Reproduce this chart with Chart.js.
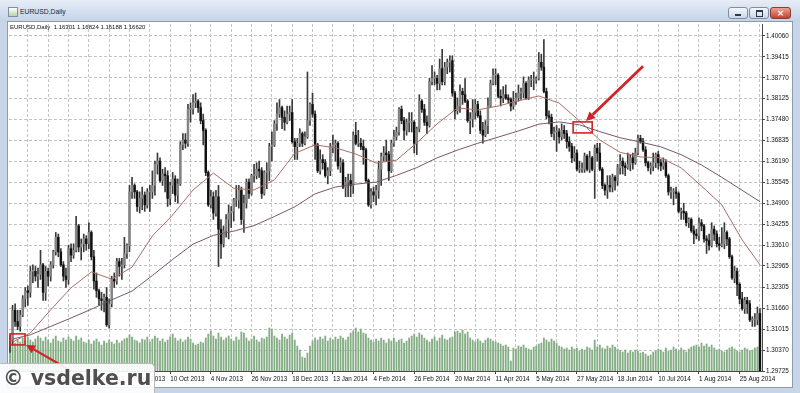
<!DOCTYPE html>
<html>
<head>
<meta charset="utf-8">
<title>EURUSD,Daily</title>
<script src="https://cdn.jsdelivr.net/npm/chart.js@4.4.1/dist/chart.umd.min.js"></script>
<style>
body{margin:0;width:800px;height:393px;overflow:hidden;background:#c6d5e8;font-family:'Liberation Sans',Arial,sans-serif}
#win{position:relative;width:800px;height:393px}
#bar{position:absolute;left:0;top:0;width:800px;height:21px;background:linear-gradient(#e6edf6,#c4d4e8)}
#bar .ico{position:absolute;left:8px;top:7px;width:8px;height:8px;border:1px solid #7d8fa5;background:linear-gradient(#ffffff,#b9d3a8)}
#bar .ttl{position:absolute;left:20px;top:8px;font-size:6.8px;color:#1b2636}
.btn{position:absolute;top:7px;height:10px;border:1px solid #7c8da4;border-radius:3px;background:linear-gradient(#f4f7fb,#cbd7e7)}
.min{left:728px;width:18px}.max{left:749px;width:18px}
.min:after{content:'';position:absolute;left:6px;top:6px;width:6px;height:2px;background:#2d3a4e}
.max:after{content:'';position:absolute;left:6px;top:2px;width:5px;height:4px;border:1px solid #2d3a4e;border-top-width:2px}
.cls{left:770px;width:19px;border-color:#8b3b31;background:linear-gradient(#e9a293,#c3432e);color:#fff;font:bold 9px 'DejaVu Sans',sans-serif;text-align:center;line-height:10px}
#pane{position:absolute;left:7px;top:21px;width:784px;height:365px;background:#fff;border:1px solid #8e9aaa}
#c{position:absolute;left:0;top:0}
#head{position:absolute;left:10px;top:24px;font-size:6px;color:#111;white-space:pre}
#wm{position:absolute;left:0;top:363px;width:151px;height:29px;background:rgba(255,255,255,0.9);border:1px solid #b9b9b9;border-left:none;border-bottom:none;border-radius:0 5px 0 0;font:bold 20.5px 'DejaVu Sans',sans-serif;color:#4f4f4f;line-height:29px;padding-left:3px;white-space:nowrap;text-shadow:0 0 1px #fff}
</style>
</head>
<body>
<div id="win">
  <div id="bar"><span class="ico"></span><span class="ttl">EURUSD,Daily</span>
    <div class="btn min"></div><div class="btn max"></div><div class="btn cls">×</div></div>
  <div id="pane"></div>
  <canvas id="c" width="800" height="393"></canvas>
  <div id="head">EURUSD,Daily  1.16301 1.16824 1.16188 1.16620</div>
  <div id="wm">© vsdelke.ru</div>
</div>
<script>
// daily bars, 15 Jul 2013 .. 4 Sep 2014
const opens=[
1.3065,1.3068,1.3160,1.3125,1.3110,1.3145,1.3195,1.3220,1.3215,1.3280,
1.3280,1.3265,1.3270,1.3300,1.3215,1.3280,1.3265,1.3300,1.3340,1.3385,
1.3340,1.3300,1.3265,1.3255,1.3350,1.3330,1.3345,1.3420,1.3355,1.3365,
1.3380,1.3365,1.3400,1.3325,1.3250,1.3220,1.3195,1.3190,1.3200,1.3115,
1.3180,1.3255,1.3250,1.3310,1.3295,1.3300,1.3335,1.3360,1.3525,1.3545,
1.3525,1.3480,1.3505,1.3515,1.3485,1.3525,1.3525,1.3545,1.3610,1.3620,
1.3560,1.3580,1.3575,1.3505,1.3545,1.3565,1.3515,1.3550,1.3670,1.3685,
1.3675,1.3780,1.3780,1.3800,1.3805,1.3785,1.3745,1.3715,1.3585,1.3485,
1.3510,1.3460,1.3510,1.3410,1.3365,1.3405,1.3440,1.3460,1.3465,1.3500,
1.3500,1.3530,1.3440,1.3490,1.3555,1.3520,1.3575,1.3575,1.3595,1.3590,
1.3520,1.3585,1.3590,1.3665,1.3670,1.3735,1.3765,1.3785,1.3755,1.3740,
1.3765,1.3770,1.3680,1.3665,1.3675,1.3705,1.3675,1.3695,1.3745,1.3795,
1.3765,1.3670,1.3590,1.3625,1.3615,1.3575,1.3590,1.3665,1.3670,1.3675,
1.3605,1.3615,1.3540,1.3555,1.3560,1.3545,1.3700,1.3675,1.3675,1.3665,
1.3655,1.3560,1.3485,1.3525,1.3515,1.3530,1.3595,1.3635,1.3645,1.3640,
1.3590,1.3675,1.3695,1.3710,1.3780,1.3745,1.3715,1.3740,1.3740,1.3740,
1.3675,1.3720,1.3805,1.3780,1.3740,1.3730,1.3865,1.3875,1.3875,1.3860,
1.3905,1.3865,1.3910,1.3925,1.3930,1.3830,1.3775,1.3790,1.3835,1.3825,
1.3805,1.3745,1.3750,1.3770,1.3795,1.3760,1.3715,1.3700,1.3730,1.3790,
1.3860,1.3885,1.3885,1.3820,1.3815,1.3825,1.3815,1.3810,1.3790,1.3805,
1.3815,1.3830,1.3830,1.3860,1.3815,1.3870,1.3870,1.3870,1.3875,1.3925,
1.3910,1.3835,1.3760,1.3755,1.3705,1.3710,1.3710,1.3695,1.3715,1.3705,
1.3680,1.3665,1.3630,1.3645,1.3595,1.3595,1.3595,1.3635,1.3595,1.3630,
1.3595,1.3660,1.3645,1.3595,1.3545,1.3530,1.3545,1.3540,1.3570,1.3560,
1.3600,1.3620,1.3605,1.3600,1.3610,1.3630,1.3615,1.3645,1.3690,1.3680,
1.3655,1.3615,1.3600,1.3605,1.3615,1.3640,1.3615,1.3605,1.3615,1.3575,
1.3525,1.3525,1.3525,1.3520,1.3465,1.3465,1.3460,1.3430,1.3440,1.3405,
1.3395,1.3390,1.3430,1.3420,1.3380,1.3375,1.3360,1.3410,1.3395,1.3365,
1.3360,1.3365,1.3400,1.3380,1.3325,1.3260,1.3280,1.3240,1.3195,1.3165,
1.3190,1.3180,1.3130,1.3130,1.3130,1.3150];
const highs=[
1.3085,1.3175,1.3180,1.3160,1.3160,1.3205,1.3230,1.3235,1.3295,1.3300,
1.3295,1.3290,1.3345,1.3305,1.3295,1.3290,1.3310,1.3345,1.3400,1.3395,
1.3350,1.3310,1.3290,1.3360,1.3365,1.3365,1.3450,1.3425,1.3380,1.3395,
1.3390,1.3430,1.3405,1.3345,1.3275,1.3225,1.3215,1.3210,1.3230,1.3195,
1.3265,1.3275,1.3320,1.3320,1.3320,1.3385,1.3365,1.3545,1.3570,1.3550,
1.3530,1.3525,1.3540,1.3525,1.3535,1.3545,1.3590,1.3620,1.3645,1.3630,
1.3595,1.3600,1.3590,1.3555,1.3585,1.3575,1.3565,1.3680,1.3705,1.3705,
1.3795,1.3800,1.3825,1.3830,1.3810,1.3800,1.3765,1.3720,1.3590,1.3530,
1.3525,1.3530,1.3545,1.3440,1.3420,1.3455,1.3485,1.3480,1.3505,1.3545,
1.3545,1.3540,1.3515,1.3565,1.3565,1.3580,1.3610,1.3615,1.3620,1.3600,
1.3590,1.3615,1.3675,1.3710,1.3745,1.3800,1.3810,1.3790,1.3775,1.3790,
1.3790,1.3810,1.3690,1.3690,1.3720,1.3710,1.3710,1.3895,1.3800,1.3830,
1.3775,1.3675,1.3655,1.3640,1.3625,1.3600,1.3675,1.3700,1.3685,1.3680,
1.3630,1.3625,1.3570,1.3580,1.3580,1.3710,1.3740,1.3715,1.3690,1.3685,
1.3660,1.3565,1.3535,1.3540,1.3545,1.3620,1.3645,1.3665,1.3685,1.3650,
1.3685,1.3715,1.3725,1.3785,1.3790,1.3755,1.3750,1.3770,1.3770,1.3745,
1.3725,1.3825,1.3810,1.3795,1.3760,1.3875,1.3915,1.3895,1.3885,1.3935,
1.3965,1.3925,1.3935,1.3945,1.3945,1.3835,1.3815,1.3855,1.3845,1.3875,
1.3810,1.3770,1.3810,1.3810,1.3805,1.3775,1.3740,1.3745,1.3815,1.3870,
1.3905,1.3905,1.3890,1.3840,1.3850,1.3855,1.3825,1.3815,1.3835,1.3830,
1.3855,1.3845,1.3880,1.3865,1.3880,1.3885,1.3895,1.3880,1.3955,1.3950,
1.3995,1.3845,1.3775,1.3765,1.3725,1.3730,1.3720,1.3735,1.3730,1.3715,
1.3695,1.3675,1.3665,1.3655,1.3620,1.3615,1.3645,1.3640,1.3650,1.3635,
1.3670,1.3675,1.3675,1.3600,1.3550,1.3575,1.3575,1.3580,1.3575,1.3610,
1.3640,1.3630,1.3615,1.3645,1.3640,1.3645,1.3660,1.3700,1.3700,1.3690,
1.3665,1.3620,1.3615,1.3645,1.3645,1.3650,1.3625,1.3630,1.3625,1.3580,
1.3540,1.3535,1.3540,1.3525,1.3475,1.3490,1.3465,1.3445,1.3445,1.3420,
1.3410,1.3445,1.3440,1.3425,1.3390,1.3395,1.3430,1.3420,1.3405,1.3385,
1.3415,1.3430,1.3405,1.3385,1.3330,1.3295,1.3290,1.3245,1.3215,1.3200,
1.3200,1.3190,1.3140,1.3150,1.3170,1.3165];
const lows=[
1.3030,1.3055,1.3110,1.3100,1.3095,1.3140,1.3170,1.3175,1.3200,1.3245,
1.3250,1.3230,1.3255,1.3190,1.3190,1.3235,1.3250,1.3290,1.3330,1.3325,
1.3295,1.3250,1.3230,1.3240,1.3310,1.3320,1.3340,1.3340,1.3315,1.3340,
1.3345,1.3350,1.3315,1.3225,1.3200,1.3175,1.3160,1.3155,1.3110,1.3105,
1.3170,1.3230,1.3240,1.3265,1.3255,1.3290,1.3320,1.3340,1.3505,1.3505,
1.3465,1.3460,1.3470,1.3465,1.3475,1.3465,1.3505,1.3515,1.3580,1.3555,
1.3545,1.3525,1.3480,1.3485,1.3520,1.3495,1.3490,1.3545,1.3655,1.3660,
1.3665,1.3740,1.3765,1.3785,1.3770,1.3735,1.3670,1.3575,1.3480,1.3475,
1.3440,1.3450,1.3295,1.3320,1.3355,1.3385,1.3380,1.3415,1.3435,1.3480,
1.3475,1.3425,1.3400,1.3475,1.3505,1.3515,1.3555,1.3565,1.3570,1.3505,
1.3515,1.3535,1.3560,1.3620,1.3665,1.3715,1.3755,1.3720,1.3715,1.3735,
1.3745,1.3675,1.3625,1.3625,1.3665,1.3665,1.3670,1.3690,1.3730,1.3755,
1.3625,1.3585,1.3580,1.3595,1.3570,1.3550,1.3575,1.3645,1.3620,1.3595,
1.3585,1.3535,1.3510,1.3510,1.3510,1.3520,1.3670,1.3665,1.3655,1.3610,
1.3555,1.3480,1.3475,1.3495,1.3485,1.3505,1.3545,1.3620,1.3620,1.3560,
1.3585,1.3665,1.3685,1.3700,1.3735,1.3685,1.3700,1.3710,1.3710,1.3645,
1.3640,1.3710,1.3770,1.3730,1.3705,1.3725,1.3855,1.3855,1.3840,1.3840,
1.3855,1.3855,1.3890,1.3895,1.3820,1.3750,1.3765,1.3770,1.3795,1.3800,
1.3740,1.3705,1.3725,1.3750,1.3755,1.3705,1.3675,1.3695,1.3705,1.3785,
1.3855,1.3855,1.3815,1.3790,1.3800,1.3810,1.3800,1.3775,1.3780,1.3795,
1.3805,1.3810,1.3815,1.3810,1.3810,1.3850,1.3840,1.3860,1.3870,1.3900,
1.3830,1.3750,1.3735,1.3695,1.3685,1.3650,1.3675,1.3685,1.3690,1.3660,
1.3650,1.3615,1.3620,1.3590,1.3585,1.3585,1.3585,1.3590,1.3585,1.3590,
1.3505,1.3620,1.3590,1.3535,1.3515,1.3505,1.3525,1.3525,1.3530,1.3545,
1.3580,1.3580,1.3575,1.3595,1.3590,1.3595,1.3610,1.3640,1.3675,1.3650,
1.3605,1.3590,1.3580,1.3590,1.3600,1.3595,1.3590,1.3595,1.3570,1.3515,
1.3505,1.3485,1.3505,1.3460,1.3440,1.3440,1.3420,1.3415,1.3400,1.3365,
1.3380,1.3375,1.3405,1.3370,1.3335,1.3345,1.3355,1.3375,1.3355,1.3345,
1.3355,1.3350,1.3360,1.3320,1.3255,1.3245,1.3205,1.3180,1.3160,1.3150,
1.3150,1.3125,1.3110,1.3110,1.3115,1.2920];
const closes=[
1.3068,1.3160,1.3125,1.3110,1.3145,1.3195,1.3220,1.3215,1.3280,1.3280,
1.3265,1.3270,1.3300,1.3215,1.3280,1.3265,1.3300,1.3340,1.3385,1.3340,
1.3300,1.3265,1.3255,1.3350,1.3330,1.3345,1.3420,1.3355,1.3365,1.3380,
1.3365,1.3400,1.3325,1.3250,1.3220,1.3195,1.3190,1.3200,1.3115,1.3180,
1.3255,1.3250,1.3310,1.3295,1.3300,1.3335,1.3360,1.3525,1.3545,1.3525,
1.3480,1.3505,1.3515,1.3485,1.3525,1.3525,1.3545,1.3610,1.3620,1.3560,
1.3580,1.3575,1.3505,1.3545,1.3565,1.3515,1.3550,1.3670,1.3685,1.3675,
1.3780,1.3780,1.3800,1.3805,1.3785,1.3745,1.3715,1.3585,1.3485,1.3510,
1.3460,1.3510,1.3410,1.3365,1.3405,1.3440,1.3460,1.3465,1.3500,1.3500,
1.3530,1.3440,1.3490,1.3555,1.3520,1.3575,1.3575,1.3595,1.3590,1.3520,
1.3585,1.3590,1.3665,1.3670,1.3735,1.3765,1.3785,1.3755,1.3740,1.3765,
1.3770,1.3680,1.3665,1.3675,1.3705,1.3675,1.3695,1.3745,1.3795,1.3765,
1.3670,1.3590,1.3625,1.3615,1.3575,1.3590,1.3665,1.3670,1.3675,1.3605,
1.3615,1.3540,1.3555,1.3560,1.3545,1.3700,1.3675,1.3675,1.3665,1.3655,
1.3560,1.3485,1.3525,1.3515,1.3530,1.3595,1.3635,1.3645,1.3640,1.3590,
1.3675,1.3695,1.3710,1.3780,1.3745,1.3715,1.3740,1.3740,1.3740,1.3675,
1.3720,1.3805,1.3780,1.3740,1.3730,1.3865,1.3875,1.3875,1.3860,1.3905,
1.3865,1.3910,1.3925,1.3930,1.3830,1.3775,1.3790,1.3835,1.3825,1.3805,
1.3745,1.3750,1.3770,1.3795,1.3760,1.3715,1.3700,1.3730,1.3790,1.3860,
1.3885,1.3885,1.3820,1.3815,1.3825,1.3815,1.3810,1.3790,1.3805,1.3815,
1.3830,1.3830,1.3860,1.3815,1.3870,1.3870,1.3870,1.3875,1.3925,1.3910,
1.3835,1.3760,1.3755,1.3705,1.3710,1.3710,1.3695,1.3715,1.3705,1.3680,
1.3665,1.3630,1.3645,1.3595,1.3595,1.3595,1.3635,1.3595,1.3630,1.3595,
1.3660,1.3645,1.3595,1.3545,1.3530,1.3545,1.3540,1.3570,1.3560,1.3600,
1.3620,1.3605,1.3600,1.3610,1.3630,1.3615,1.3645,1.3690,1.3680,1.3655,
1.3615,1.3600,1.3605,1.3615,1.3640,1.3615,1.3605,1.3615,1.3575,1.3525,
1.3525,1.3525,1.3520,1.3465,1.3465,1.3460,1.3430,1.3440,1.3405,1.3395,
1.3390,1.3430,1.3420,1.3380,1.3375,1.3360,1.3410,1.3395,1.3365,1.3360,
1.3365,1.3400,1.3380,1.3325,1.3260,1.3280,1.3240,1.3195,1.3165,1.3190,
1.3180,1.3130,1.3130,1.3130,1.3150,1.2945];
const volumes=[
120,128,112,124,116,132,120,136,124,116,
128,140,132,120,136,124,112,128,140,120,
116,132,124,136,128,120,140,124,132,116,
112,124,108,120,128,116,104,120,112,124,
116,108,124,112,120,128,132,144,136,124,
120,112,128,124,136,116,128,140,132,120,
128,116,124,136,148,132,120,128,116,124,
136,128,112,104,108,116,112,132,148,160,
140,128,152,136,124,132,140,128,120,136,
124,156,152,132,120,128,140,124,116,132,
128,136,172,168,140,132,124,148,136,128,
144,152,124,100,84,56,52,72,100,120,
132,124,136,128,140,120,132,124,136,128,
140,132,124,136,152,160,172,156,168,152,
148,132,124,116,128,120,132,124,112,128,
120,132,116,124,128,112,120,132,140,148,
136,152,144,132,124,116,128,136,120,132,
144,128,124,132,136,156,160,152,164,148,
156,132,124,116,128,120,112,124,132,128,
120,116,112,108,100,104,96,40,92,88,
100,96,104,92,88,84,96,100,108,112,
132,124,116,128,120,112,100,96,88,92,
84,96,88,92,80,88,84,96,92,84,
124,96,104,92,88,100,92,104,96,88,
80,76,84,72,80,76,84,80,72,76,
68,60,64,76,80,88,84,76,92,80,
84,96,88,80,92,84,76,88,96,100,
104,96,112,100,108,96,104,92,84,88,
80,76,84,92,96,88,80,76,84,92,
88,80,84,92,96,120];

// moving averages at every 8th bar
const maIdx=[1,8,16,24,32,40,48,56,64,72,80,88,96,104,112,120,128,136,144,152,160,168,176,184,192,200,208,216,224,232,240,248,256,264,272,280,288,295];
const maFast=[1.3062,1.3090,1.3161,1.3229,1.3278,1.3256,1.3293,1.3389,1.3454,1.3531,1.3583,1.3536,1.3531,1.3562,1.3644,1.3670,1.3661,1.3642,1.3614,1.3623,1.3676,1.3735,1.3784,1.3778,1.3790,1.3806,1.3821,1.3799,1.3744,1.3685,1.3647,1.3633,1.3630,1.3599,1.3543,1.3485,1.3377,1.3300];
const maSlow=[1.3071,1.3084,1.3110,1.3136,1.3163,1.3192,1.3219,1.3267,1.3317,1.3364,1.3391,1.3404,1.3421,1.3449,1.3479,1.3519,1.3540,1.3549,1.3555,1.3576,1.3600,1.3630,1.3654,1.3675,1.3694,1.3713,1.3734,1.3741,1.3732,1.3711,1.3692,1.3679,1.3664,1.3640,1.3608,1.3570,1.3530,1.3495];

const priceTicks=[1.29725,1.30370,1.31015,1.31660,1.32305,1.32965,1.33610,1.34255,1.34900,1.35545,1.36190,1.36835,1.37480,1.38125,1.38770,1.39415,1.40060];
const dateLabels=['5 Aug 2013','27 Aug 2013','18 Sep 2013','10 Oct 2013','4 Nov 2013','26 Nov 2013','18 Dec 2013','13 Jan 2014','4 Feb 2014','26 Feb 2014','20 Mar 2014','11 Apr 2014','5 May 2014','27 May 2014','18 Jun 2014','10 Jul 2014','1 Aug 2014','25 Aug 2014'];
const firstLabelBar=15, labelStep=16;

// red marks: [bar from, bar to, price low, price high] and [tail bar, tail price, tip bar, tip price, width]
const boxes=[[0,5.9,1.3053,1.3087],[221.5,229,1.3707,1.3741]];
const arrows=[[249,1.3913,226.6,1.3744,2.8],[23.6,1.2975,6.3,1.3053,2.2]];

const F="'Liberation Sans', Arial, sans-serif";
const idx=opens.map((o,i)=>i);
const gridBars=[];
for(let v=firstLabelBar-labelStep/2;v<opens.length;v+=labelStep/2) gridBars.push(v);
const isLabel=v=>(v-firstLabelBar)%labelStep===0;

const redMarks={
  id:'redMarks',
  afterDatasetsDraw(ch){
    const {ctx,scales:{x,y}}=ch;
    const X=v=>x.getPixelForValue(v), Y=v=>y.getPixelForValue(v);
    ctx.save();
    ctx.strokeStyle='#cf2326';ctx.fillStyle='#cf2326';
    ctx.lineWidth=1.6;
    boxes.forEach(b=>ctx.strokeRect(X(b[0]),Y(b[3]),X(b[1])-X(b[0]),Y(b[2])-Y(b[3])));
    arrows.forEach(a=>{
      const x1=X(a[0]),y1=Y(a[1]),x2=X(a[2]),y2=Y(a[3]);
      const ang=Math.atan2(y2-y1,x2-x1),hl=9,hw=4.5;
      const bx=x2-hl*Math.cos(ang),by=y2-hl*Math.sin(ang);
      ctx.lineWidth=a[4];
      ctx.beginPath();ctx.moveTo(x1,y1);ctx.lineTo(bx,by);ctx.stroke();
      ctx.beginPath();ctx.moveTo(x2,y2);
      ctx.lineTo(bx+hw*Math.sin(ang),by-hw*Math.cos(ang));
      ctx.lineTo(bx-hw*Math.sin(ang),by+hw*Math.cos(ang));
      ctx.closePath();ctx.fill();
    });
    ctx.restore();
  }
};

new Chart(document.getElementById('c'),{
  type:'bar',
  data:{datasets:[
    {type:'line',data:maIdx.map((v,k)=>({x:v,y:maFast[k]})),borderColor:'#a86d66',borderWidth:1,pointRadius:0,order:1},
    {type:'line',data:maIdx.map((v,k)=>({x:v,y:maSlow[k]})),borderColor:'#785670',borderWidth:1,pointRadius:0,order:1},
    {data:idx.map(i=>({x:i,y:[opens[i],closes[i]]})),backgroundColor:idx.map(i=>closes[i]>=opens[i]?'#858585':'#111111'),
      barThickness:1.8,minBarLength:1,grouped:false,clip:0,order:2},
    {data:idx.map(i=>({x:i,y:[lows[i],highs[i]]})),backgroundColor:'#3a3a3a',barThickness:1,grouped:false,clip:0,order:3},
    {data:idx.map(i=>({x:i,y:volumes[i]})),yAxisID:'y2',backgroundColor:'#86ae86',barThickness:1.2,grouped:false,order:4}
  ]},
  options:{
    responsive:false,animation:false,
    layout:{padding:{left:9,top:24,right:5,bottom:5}},
    plugins:{legend:{display:false},tooltip:{enabled:false}},
    scales:{
      x:{type:'linear',min:-0.4,max:295.8,offset:false,
        afterBuildTicks:s=>{s.ticks=gridBars.map(v=>({value:v}))},
        afterFit:s=>{s.height=17},
        ticks:{autoSkip:false,maxRotation:0,minRotation:0,align:'start',padding:1,color:'#111',font:{family:F,size:6.3},
          callback:v=>isLabel(v)?dateLabels[(v-firstLabelBar)/labelStep]:''},
        grid:{color:'#c4c4c4',offset:false,tickLength:3,tickColor:c=>c.tick&&isLabel(c.tick.value)?'#444':'rgba(0,0,0,0)'},
        border:{display:true,color:'#4a4a4a',dash:[3,2]}},
      y:{position:'right',min:1.29725,max:1.4043,
        afterBuildTicks:s=>{s.ticks=priceTicks.map(v=>({value:v}))},
        afterFit:s=>{s.width=33},
        ticks:{padding:1,color:'#111',font:{family:F,size:6.3},callback:v=>v.toFixed(5)},
        grid:{color:'#c4c4c4',tickLength:3,tickColor:'#444'},
        border:{display:true,color:'#4a4a4a',dash:[3,2]}},
      y2:{display:false,min:0,max:1388}
    }
  },
  plugins:[redMarks]
});
</script>
</body>
</html>
